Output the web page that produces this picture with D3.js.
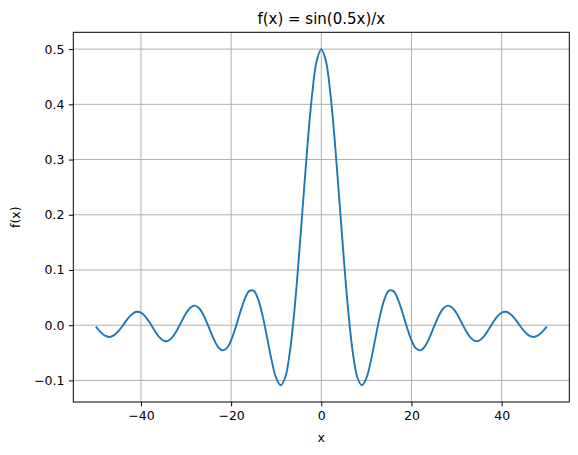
<!DOCTYPE html>
<html>
<head>
<meta charset="utf-8">
<script src="https://cdn.jsdelivr.net/npm/d3@7"></script>
<style>
  body { margin: 0; background: #fff; }
  svg { display: block; font-family: "DejaVu Sans", sans-serif; }
</style>
</head>
<body>
<div id="chart"></div>
<script>
// values, one per unit of x
const xValues = d3.range(-50, 51, 1);
const yValues = [
  -0.0026, -0.0121, -0.0189, -0.0212, -0.0184, -0.0108, -0.0002, 0.0110, 0.0199, 0.0243,
  0.0228, 0.0155, 0.0039, -0.0091, -0.0209, -0.0280, -0.0283, -0.0216, -0.0090, 0.0067,
  0.0217, 0.0322, 0.0354, 0.0298, 0.0162, -0.0027, -0.0224, -0.0381, -0.0455, -0.0419,
  -0.0272, -0.0040, 0.0229, 0.0470, 0.0618, 0.0625, 0.0469, 0.0165, -0.0233, -0.0641,
  -0.0959, -0.1086, -0.0946, -0.0501, 0.0235, 0.1197, 0.2273, 0.3325, 0.4207, 0.4794,
  0.5000,
  0.4794, 0.4207, 0.3325, 0.2273, 0.1197, 0.0235, -0.0501, -0.0946, -0.1086, -0.0959,
  -0.0641, -0.0233, 0.0165, 0.0469, 0.0625, 0.0618, 0.0470, 0.0229, -0.0040, -0.0272,
  -0.0419, -0.0455, -0.0381, -0.0224, -0.0027, 0.0162, 0.0298, 0.0354, 0.0322, 0.0217,
  0.0067, -0.0090, -0.0216, -0.0283, -0.0280, -0.0209, -0.0091, 0.0039, 0.0155, 0.0228,
  0.0243, 0.0199, 0.0110, -0.0002, -0.0108, -0.0184, -0.0212, -0.0189, -0.0121, -0.0026
];
const xTicks = [-40, -20, 0, 20, 40];
const yTicks = [-0.1, 0.0, 0.1, 0.2, 0.3, 0.4, 0.5];

const WIDTH = 578;
const HEIGHT = 455;
const LEFT = 73.3, RIGHT = 569.3, TOP = 32.3, BOTTOM = 402;
const LINE_COLOR = "#1f77b4";
const GRID_COLOR = "#b0b0b0";
const FONT_SIZE = 12.5;

const points = xValues.map((x, i) => ({ x: x, y: yValues[i] }));

// 5% margins like matplotlib autoscale
const xMin = d3.min(xValues), xMax = d3.max(xValues);
const yMin = d3.min(yValues), yMax = d3.max(yValues);
const xPad = (xMax - xMin) * 0.05;
const yPad = (yMax - yMin) * 0.05;

const x = d3.scaleLinear().domain([xMin - xPad, xMax + xPad]).range([LEFT, RIGHT]);
const y = d3.scaleLinear().domain([yMin - yPad, yMax + yPad]).range([BOTTOM, TOP]);

const svg = d3.select("#chart").append("svg")
  .attr("width", WIDTH)
  .attr("height", HEIGHT);

const minus = (s) => s.replace("-", "\u2212");

// grid
const grid = svg.append("g").attr("class", "grid");
grid.selectAll(".vgrid")
  .data(xTicks)
  .enter()
  .append("line")
  .attr("x1", (d) => x(d)).attr("x2", (d) => x(d))
  .attr("y1", TOP).attr("y2", BOTTOM)
  .attr("stroke", GRID_COLOR).attr("stroke-width", 1);
grid.selectAll(".hgrid")
  .data(yTicks)
  .enter()
  .append("line")
  .attr("x1", LEFT).attr("x2", RIGHT)
  .attr("y1", (d) => y(d)).attr("y2", (d) => y(d))
  .attr("stroke", GRID_COLOR).attr("stroke-width", 1);

// the curve
const line = d3.line()
  .x((d) => x(d.x))
  .y((d) => y(d.y))
  .curve(d3.curveCatmullRom.alpha(0.5));

svg.append("path")
  .datum(points)
  .attr("d", line)
  .attr("fill", "none")
  .attr("stroke", LINE_COLOR)
  .attr("stroke-width", 1.9)
  .attr("stroke-linejoin", "round")
  .attr("stroke-linecap", "butt");

// axes
const xAxis = d3.axisBottom(x)
  .tickValues(xTicks)
  .tickSize(4.4)
  .tickPadding(4.4)
  .tickFormat((d) => minus(d3.format("d")(d)));
const yAxis = d3.axisLeft(y)
  .tickValues(yTicks)
  .tickSize(4.4)
  .tickPadding(4.4)
  .tickFormat((d) => minus(d3.format(".1f")(d)));

const gx = svg.append("g").attr("transform", `translate(0,${BOTTOM})`).call(xAxis);
const gy = svg.append("g").attr("transform", `translate(${LEFT},0)`).call(yAxis);
[gx, gy].forEach((g) => {
  g.select(".domain").remove();
  g.selectAll(".tick line").attr("stroke", "#000").attr("stroke-width", 1);
  g.selectAll(".tick text")
    .attr("fill", "#000")
    .attr("font-size", FONT_SIZE)
    .attr("font-family", "DejaVu Sans");
});

// spines
svg.append("rect")
  .attr("x", LEFT).attr("y", TOP)
  .attr("width", RIGHT - LEFT).attr("height", BOTTOM - TOP)
  .attr("fill", "none")
  .attr("stroke", "#000")
  .attr("stroke-width", 1);

// labels
svg.append("text")
  .attr("x", (LEFT + RIGHT) / 2)
  .attr("y", 23.5)
  .attr("text-anchor", "middle")
  .attr("font-size", 15)
  .text("f(x) = sin(0.5x)/x");

svg.append("text")
  .attr("x", (LEFT + RIGHT) / 2)
  .attr("y", 442)
  .attr("text-anchor", "middle")
  .attr("font-size", FONT_SIZE)
  .text("x");

svg.append("text")
  .attr("transform", `translate(19.5,${(TOP + BOTTOM) / 2}) rotate(-90)`)
  .attr("text-anchor", "middle")
  .attr("font-size", FONT_SIZE)
  .text("f(x)");
</script>
</body>
</html>
